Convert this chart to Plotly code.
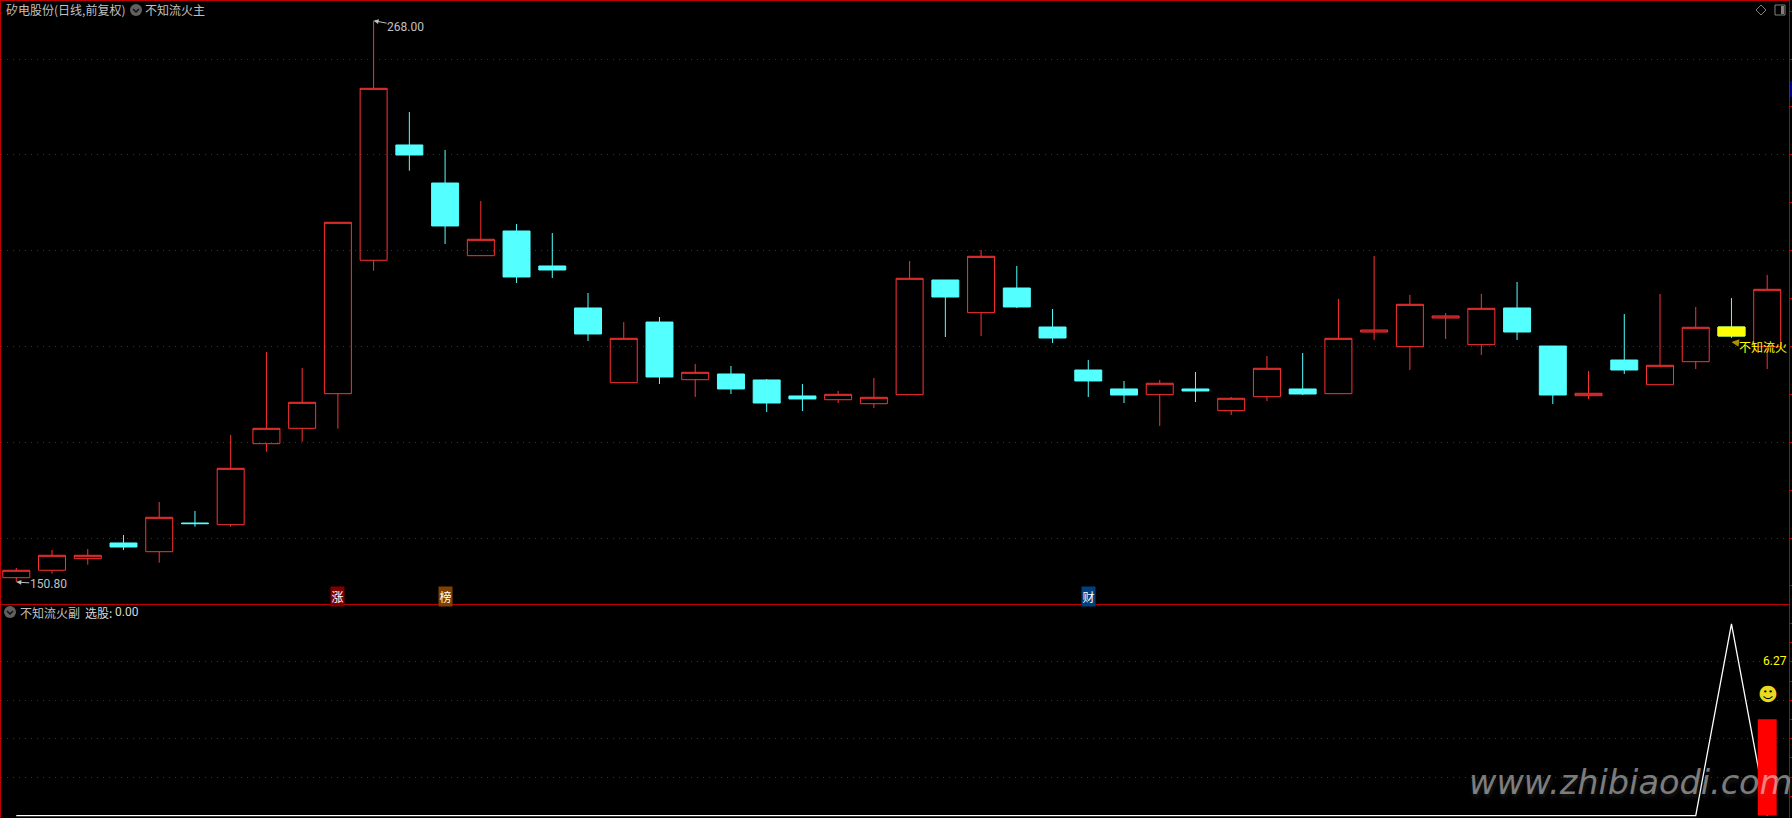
import plotly.graph_objects as go

W, H = 1792, 818

# ---- data ----
opens = [151.71,153.26,155.68,158.96,157.14,163.13,162.78,179.69,182.90,190.13,
         217.98,242.05,234.11,218.94,224.09,216.79,208.02,192.42,205.09,193.05,
         194.24,192.99,189.65,188.87,188.04,189.92,213.86,207.04,212.19,204.05,
         195.07,191.11,189.92,191.11,186.58,189.50,191.11,190.13,203.00,199.94,
         205.93,200.36,208.02,200.08,189.71,197.16,192.00,196.81,204.05,199.94]
highs = [153.74,157.49,157.70,160.63,167.52,165.64,181.50,198.83,195.49,225.91,
         268.00,248.94,241.00,230.36,225.55,223.67,211.15,205.09,206.14,196.33,
         195.91,193.19,192.15,190.69,193.40,217.83,213.86,220.13,216.79,207.81,
         197.16,192.78,192.99,194.66,189.44,198.00,198.62,209.90,218.87,210.73,
         206.97,210.94,213.45,200.08,194.86,206.76,210.94,208.23,210.10,214.91]
lows = [150.80,152.55,154.43,157.49,154.84,162.36,162.36,178.02,180.10,182.82,
        215.80,236.68,221.38,218.94,213.24,214.28,201.13,192.42,192.15,189.44,
        190.06,186.31,186.51,188.18,187.14,189.92,201.96,202.17,208.02,200.71,
        189.44,188.18,183.38,188.39,185.68,188.60,189.85,190.13,201.34,195.07,
        201.55,198.20,201.34,187.98,189.02,194.24,192.00,195.28,201.75,195.28]
closes = [153.26,156.39,156.39,158.12,164.32,163.00,174.55,182.90,188.33,225.91,
          253.88,239.96,225.14,222.36,214.49,215.95,202.59,201.69,193.61,194.59,
          191.11,188.18,189.02,190.00,189.37,214.22,210.31,218.81,208.23,201.75,
          192.78,189.85,192.30,190.69,189.17,195.43,190.06,201.69,203.42,208.79,
          206.35,207.95,203.00,189.85,190.21,195.07,196.05,203.99,202.17,211.92]
days = list(range(len(opens)))
signal_line = [0.0] * 48 + [12.47, 0.0]
signal_bar_value = [6.27]
signal_bar_day = [49]
high_mark, low_mark = 268.00, 150.80
event_days = [9, 12, 30]
event_labels = ["涨", "榜", "财"]
event_colors = ["#800000", "#804000", "#004080"]

RED = "#ff3232"
CYAN = "#54ffff"
YEL = "#ffff00"
GRID = "#b00000"
BORDER = "#c00000"
TXT = "#c0c0c0"
CJK = "Noto Sans CJK SC, Roboto, sans-serif"
NUM = "Roboto, Noto Sans CJK SC, sans-serif"

# pixel helpers for page furniture (not data)
PL, PT, PR, PB = 1, 1, 3, 0
def fx(px):
    return (px - PL) / (W - PL - PR)
def fy(py):
    return 1 - (py - PT) / (H - PT - PB)

fig = go.Figure()

fig.add_trace(go.Candlestick(
    x=days, open=opens, high=highs, low=lows, close=closes,
    increasing=dict(line=dict(color=RED, width=1), fillcolor="rgba(0,0,0,0)"),
    decreasing=dict(line=dict(color=CYAN, width=1), fillcolor=CYAN),
    whiskerwidth=0, xaxis="x", yaxis="y", showlegend=False, hoverinfo="skip",
))
# the latest-but-one candle body is yellow
i = 48
fig.add_trace(go.Candlestick(
    x=[days[i]], open=[opens[i]], high=[opens[i]], low=[closes[i]], close=[closes[i]],
    increasing=dict(line=dict(color=YEL, width=1), fillcolor=YEL),
    decreasing=dict(line=dict(color=YEL, width=1), fillcolor=YEL),
    whiskerwidth=0, xaxis="x", yaxis="y", showlegend=False, hoverinfo="skip",
))

fig.add_trace(go.Scatter(
    x=days, y=signal_line, mode="lines", line=dict(color="#ffffff", width=1.3),
    xaxis="x2", yaxis="y2", showlegend=False, hoverinfo="skip",
))
fig.add_trace(go.Bar(
    x=signal_bar_day, y=signal_bar_value, width=0.53, marker=dict(color="#ff0000", line=dict(width=0)),
    xaxis="x3", yaxis="y3", showlegend=False, hoverinfo="skip",
))

x_range = [-0.428, 49.61]
up_dom = [fy(604), 1]
lo_dom = [0, fy(605)]
lo_range = [-0.16, 13.70]

fig.update_layout(
    width=W, height=H,
    margin=dict(l=PL, r=PR, t=PT, b=PB, pad=0),
    paper_bgcolor="#000000", plot_bgcolor="#000000",
    boxgap=0.245, boxgroupgap=0,
    xaxis=dict(domain=[0, 1], range=x_range, anchor="y", showgrid=False, zeroline=False,
               showticklabels=False, ticks="", showline=True, mirror=True,
               linecolor=BORDER, linewidth=1, rangeslider=dict(visible=False)),
    yaxis=dict(domain=up_dom, range=[146.22, 272.11], anchor="x", side="right",
               showgrid=True, gridcolor=GRID, griddash="1px,5px", gridwidth=1,
               zeroline=False, showticklabels=False, tickmode="linear", tick0=0, dtick=20,
               ticks="outside", ticklen=3, tickcolor=BORDER, tickwidth=1,
               minor=dict(dtick=10, tick0=0, ticks="outside", ticklen=3, tickcolor=BORDER, tickwidth=1, showgrid=False),
               showline=True, mirror=True, linecolor=BORDER, linewidth=1),
    xaxis2=dict(domain=[0, 1], range=x_range, anchor="y2", showgrid=False, zeroline=False,
                showticklabels=False, ticks="", showline=False),
    yaxis2=dict(domain=lo_dom, range=lo_range, anchor="x2", side="right",
                showgrid=True, gridcolor=GRID, griddash="1px,5px", gridwidth=1,
                zeroline=False, showticklabels=False, tickmode="array", tickvals=[2.5, 5, 7.5, 10],
                ticks="outside", ticklen=3, tickcolor=BORDER, tickwidth=1,
                minor=dict(tickmode="array", tickvals=[1.25, 3.75, 6.25, 8.75, 11.25, 12.5],
                           ticks="outside", ticklen=3, tickcolor=BORDER, tickwidth=1, showgrid=False),
                showline=True, mirror=True, linecolor=BORDER, linewidth=1),
    xaxis3=dict(overlaying="x2", range=x_range, anchor="y3", visible=False),
    yaxis3=dict(overlaying="y2", range=lo_range, anchor="x3", visible=False, side="right"),
    showlegend=False,
    font=dict(family=CJK, size=12, color=TXT),
)

ann = []
def label(px, py, text, color=TXT, size=12, family=CJK):
    ann.append(dict(xref="paper", yref="paper", x=fx(px), y=fy(py), text=text, showarrow=False,
                    xanchor="left", yanchor="middle", borderpad=0,
                    font=dict(family=family, size=size, color=color)))

label(5, 10, "矽电股份(日线,前复权)")
label(144, 10, "不知流火主")
label(19, 612, "不知流火副")
label(84, 612, "选股:", color="#d8d8d8")
label(114, 612, "0.00", color="#d8d8d8", family=NUM)

# extreme labels with small arrows, anchored to the data
ann.append(dict(xref="x", yref="y", x=10, y=high_mark, text=f"{high_mark:.2f}", showarrow=True,
                ax=32, ay=6, arrowcolor=TXT, arrowwidth=1, arrowhead=2, arrowsize=1, standoff=0,
                font=dict(family=NUM, size=12, color=TXT), borderpad=0))
ann.append(dict(xref="x", yref="y", x=0, y=low_mark, text=f"{low_mark:.2f}", showarrow=True,
                ax=32, ay=2, arrowcolor=TXT, arrowwidth=1, arrowhead=2, arrowsize=1, standoff=0,
                font=dict(family=NUM, size=12, color=TXT), borderpad=0))
# signal label
ann.append(dict(xref="x", yref="y", x=48, y=200.9, text="不知流火", showarrow=True,
                ax=32, ay=4, arrowcolor="#b09000", arrowwidth=1.5, arrowhead=2, arrowsize=1, standoff=0,
                font=dict(family=CJK, size=12, color=YEL), borderpad=0))
# event tags
for d, t, c in zip(event_days, event_labels, event_colors):
    ann.append(dict(xref="x", yref="paper", x=d, y=fy(596.5), text=t, showarrow=False,
                    xanchor="center", yanchor="middle",
                    bgcolor=c, width=13, height=19, align="center", valign="middle", borderpad=0,
                    font=dict(family=CJK, size=12, color="#ffffff")))
# bar value + smiley
ann.append(dict(xref="x3", yref="y3", x=signal_bar_day[0], y=signal_bar_value[0], text=f"{signal_bar_value[0]:.2f}",
                showarrow=False, xshift=8, yshift=58, borderpad=0, font=dict(family=NUM, size=12, color=YEL)))
ann.append(dict(xref="x3", yref="y3", x=signal_bar_day[0], y=signal_bar_value[0], text="☻",
                showarrow=False, xshift=1, yshift=25, borderpad=0, font=dict(family="DejaVu Sans", size=19, color="#e8d820")))
# watermark
ann.append(dict(xref="paper", yref="paper", x=fx(1630), y=fy(782), text="www.zhibiaodi.com", showarrow=False,
                xanchor="center", yanchor="middle", borderpad=0,
                font=dict(family="DejaVu Sans", size=33.5, style="italic", color="rgba(255,255,255,0.47)",
                          shadow="1px 3px 4px rgba(110,110,110,0.55)")))
fig.update_layout(annotations=ann)

shapes = []
def chevron_icon(cx, cy):
    shapes.append(dict(type="circle", xref="paper", yref="paper", x0=fx(cx - 6), x1=fx(cx + 6),
                       y0=fy(cy + 6), y1=fy(cy - 6), fillcolor="#606060", line=dict(width=0)))
    shapes.append(dict(type="path", xref="paper", yref="paper",
                       path=f"M{fx(cx-3)},{fy(cy-1)} L{fx(cx)},{fy(cy+2)} L{fx(cx+3)},{fy(cy-1)}",
                       line=dict(color="#101010", width=1.5)))
chevron_icon(136, 10)
chevron_icon(10, 612)
# diamond and panel icons, top right
shapes.append(dict(type="path", xref="paper", yref="paper",
                   path=f"M{fx(1761)},{fy(5)} L{fx(1766)},{fy(10)} L{fx(1761)},{fy(15)} L{fx(1756)},{fy(10)} Z",
                   line=dict(color="#808080", width=1)))
shapes.append(dict(type="rect", xref="paper", yref="paper", x0=fx(1775), x1=fx(1785), y0=fy(15), y1=fy(5),
                   line=dict(color="#808080", width=1)))
shapes.append(dict(type="rect", xref="paper", yref="paper", x0=fx(1781), x1=fx(1784), y0=fy(14), y1=fy(6),
                   fillcolor="#808080", line=dict(width=0)))
# small blue tab on the right border
shapes.append(dict(type="rect", xref="paper", yref="paper", x0=fx(1790), x1=fx(1792), y0=fy(97), y1=fy(81),
                   fillcolor="#000080", line=dict(width=0)))
fig.update_layout(shapes=shapes)

fig.write_html("out.html", config={"displayModeBar": False},
               post_script="document.body.style.margin='0';document.body.style.overflow='hidden';document.body.style.background='#000';")
